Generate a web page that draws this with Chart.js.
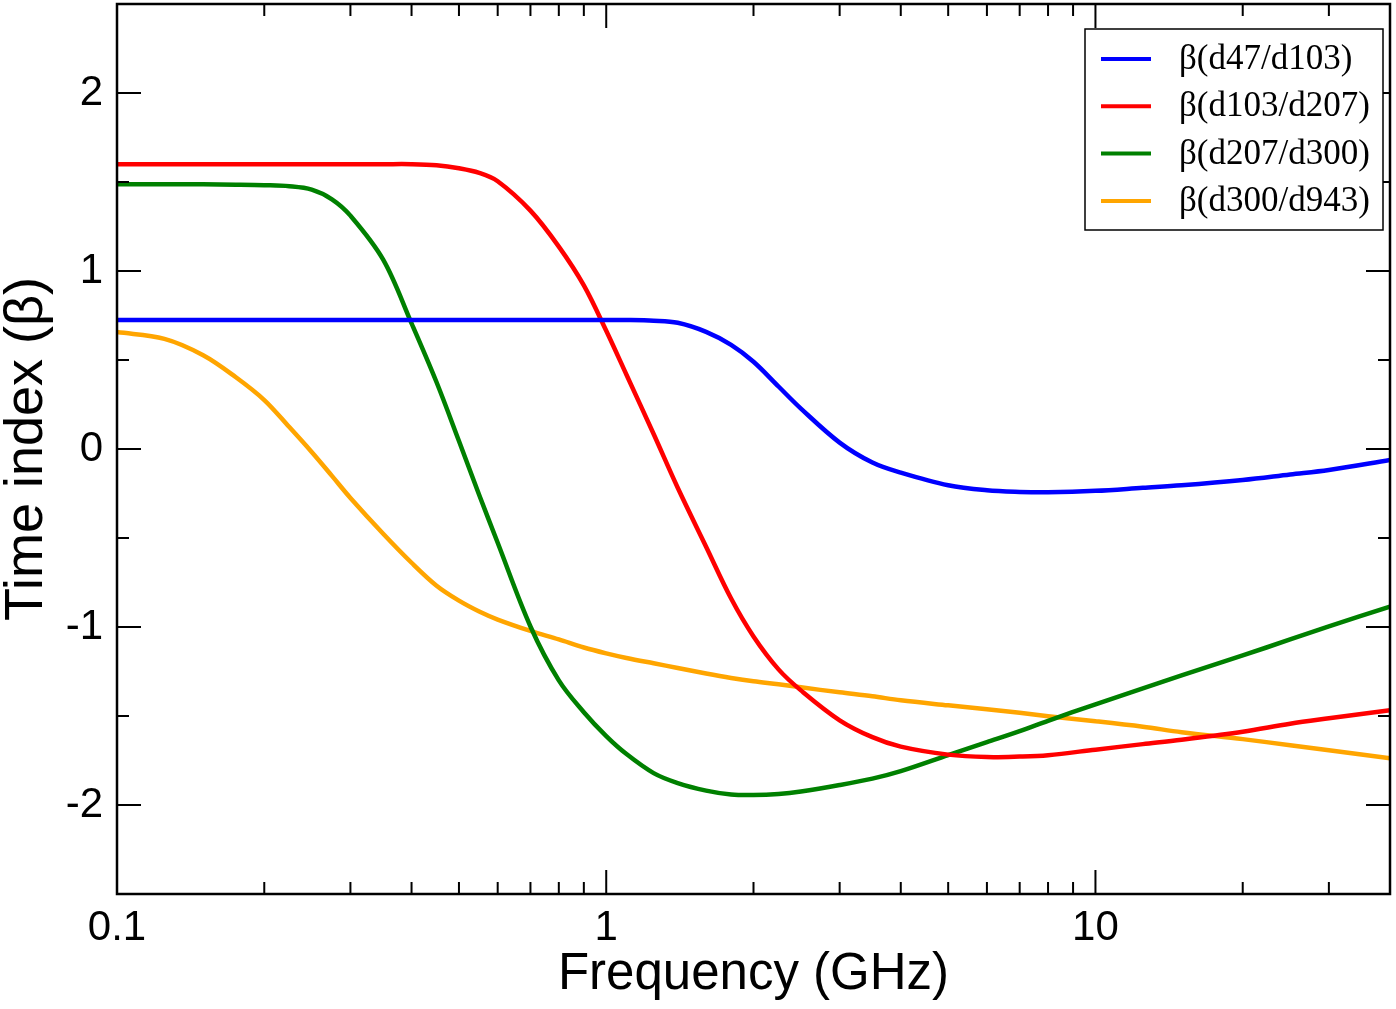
<!DOCTYPE html>
<html>
<head>
<meta charset="utf-8">
<script src="https://cdn.jsdelivr.net/npm/chart.js@4.4.1/dist/chart.umd.min.js"></script>
<style>
  body { margin: 0; background: #fff; overflow: hidden; }
  #wrap { width: 1396px; height: 1009px; }
</style>
</head>
<body>
<div id="wrap"><canvas id="myChart"></canvas></div>
<script>
// frequencies (GHz) the curves were read at
let freq = [0.1, 0.125, 0.15, 0.175, 0.2, 0.225, 0.25, 0.275, 0.3, 0.35, 0.4, 0.45, 0.5, 0.55, 0.6, 0.7, 0.8, 0.9,
            1, 1.1, 1.25, 1.4, 1.6, 1.8, 2, 2.25, 2.5, 3, 3.5, 4, 5, 6, 7, 8, 10, 12.5, 15, 20, 25, 30, 40]

let beta_47_103  = [0.725, 0.725, 0.725, 0.725, 0.725, 0.725, 0.725, 0.725, 0.725, 0.725, 0.725, 0.725, 0.725, 0.725, 0.725, 0.725, 0.725, 0.725,
                    0.725, 0.725, 0.721, 0.709, 0.658, 0.585, 0.49, 0.351, 0.227, 0.036, -0.076, -0.133, -0.204, -0.232, -0.241, -0.243, -0.235, -0.218, -0.204, -0.174, -0.143, -0.118, -0.062]
let beta_103_207 = [1.60, 1.60, 1.60, 1.60, 1.60, 1.60, 1.60, 1.60, 1.60, 1.60, 1.60, 1.594, 1.577, 1.551, 1.504, 1.339, 1.137, 0.919,
                    0.664, 0.417, 0.084, -0.218, -0.549, -0.84, -1.053, -1.238, -1.356, -1.524, -1.619, -1.672, -1.717, -1.731, -1.728, -1.72, -1.689, -1.658, -1.633, -1.588, -1.543, -1.513, -1.468]
let beta_207_300 = [1.487, 1.487, 1.487, 1.485, 1.482, 1.476, 1.457, 1.403, 1.311, 1.064, 0.706, 0.375, 0.045, -0.258, -0.527, -0.997, -1.30, -1.479,
                    -1.613, -1.714, -1.821, -1.877, -1.919, -1.941, -1.944, -1.938, -1.924, -1.888, -1.852, -1.81, -1.72, -1.647, -1.585, -1.527, -1.434, -1.345, -1.272, -1.16, -1.07, -0.997, -0.885]
let beta_300_943 = [0.657, 0.619, 0.527, 0.403, 0.275, 0.123, -0.017, -0.151, -0.275, -0.476, -0.639, -0.768, -0.852, -0.913, -0.958, -1.022, -1.07, -1.115,
                    -1.148, -1.174, -1.204, -1.23, -1.261, -1.286, -1.305, -1.322, -1.339, -1.367, -1.389, -1.412, -1.44, -1.462, -1.482, -1.501, -1.529, -1.56, -1.591, -1.63, -1.664, -1.692, -1.737]

let labels = ['β(d47/d103)', 'β(d103/d207)', 'β(d207/d300)', 'β(d300/d943)']
let colors = ['#0000ff', '#ff0000', '#008000', '#ffa500']

let xMajor = [0.1, 1, 10]
let xMinor = [0.2, 0.3, 0.4, 0.5, 0.6, 0.7, 0.8, 0.9, 2, 3, 4, 5, 6, 7, 8, 9, 20, 30]
let yMajor = [-2, -1, 0, 1, 2]
let yMinor = [-1.5, -0.5, 0.5, 1.5]

function pts(ys) {
    return freq.map((f, i) => ({x: f, y: ys[i]}))
}

let series = [beta_47_103, beta_103_207, beta_207_300, beta_300_943]
let datasets = series.map((s, i) => ({
    label: labels[i],
    data: pts(s),
    borderColor: colors[i],
    borderWidth: 4.5,
    pointRadius: 0,
    fill: false,
    tension: 0.35
}))

// frame + inward ticks on all four sides, and the boxed legend
const frame = {
    id: 'frame',
    afterDraw(chart) {
        const ctx = chart.ctx
        const a = chart.chartArea
        const xs = chart.scales.x, ys = chart.scales.y
        ctx.save()
        ctx.strokeStyle = '#000'
        ctx.lineWidth = 2
        const tick = (vals, len) => {
            vals.forEach(v => {
                let px = xs.getPixelForValue(v)
                ctx.beginPath()
                ctx.moveTo(px, a.bottom); ctx.lineTo(px, a.bottom - len)
                ctx.moveTo(px, a.top); ctx.lineTo(px, a.top + len)
                ctx.stroke()
            })
        }
        const ytick = (vals, len) => {
            vals.forEach(v => {
                let py = ys.getPixelForValue(v)
                ctx.beginPath()
                ctx.moveTo(a.left, py); ctx.lineTo(a.left + len, py)
                ctx.moveTo(a.right, py); ctx.lineTo(a.right - len, py)
                ctx.stroke()
            })
        }
        tick(xMajor, 24); tick(xMinor, 12)
        ytick(yMajor, 24); ytick(yMinor, 12)
        ctx.lineWidth = 2.5
        ctx.strokeRect(a.left, a.top, a.right - a.left, a.bottom - a.top)

        // legend
        let bx = 1085, by = 29, bw = 298, bh = 201
        ctx.fillStyle = '#fff'
        ctx.fillRect(bx, by, bw, bh)
        ctx.strokeStyle = '#000'
        ctx.lineWidth = 1.5
        ctx.strokeRect(bx, by, bw, bh)
        ctx.font = '35px "Liberation Serif", serif'
        ctx.textBaseline = 'middle'
        chart.data.datasets.forEach((ds, i) => {
            let ly = 59 + i * 47.3
            ctx.strokeStyle = ds.borderColor
            ctx.lineWidth = 4
            ctx.beginPath()
            ctx.moveTo(1101, ly); ctx.lineTo(1151, ly)
            ctx.stroke()
            ctx.fillStyle = '#000'
            ctx.fillText(ds.label, 1179, ly + 1)
        })
        ctx.restore()
    }
}

var chart = new Chart('myChart', {
    type: 'line',
    data: { datasets: datasets },
    options: {
        responsive: true,
        maintainAspectRatio: false,
        animation: false,
        layout: { padding: { left: 0, top: 4, right: 6, bottom: 0 } },
        plugins: { legend: { display: false }, tooltip: { enabled: false } },
        scales: {
            x: {
                type: 'logarithmic',
                min: 0.1,
                max: 40,
                grid: { display: false, drawTicks: false },
                border: { display: false },
                afterBuildTicks: (s) => { s.ticks = xMajor.map(v => ({value: v})) },
                afterFit: (s) => { s.height = 115; s.paddingLeft = 0; s.paddingRight = 0 },
                ticks: {
                    color: '#000',
                    padding: 9,
                    maxRotation: 0,
                    autoSkip: false,
                    font: { family: '"Liberation Sans", Arial, sans-serif', size: 42, lineHeight: 1.2 },
                    callback: (v) => String(v)
                },
                title: {
                    display: true,
                    text: 'Frequency (GHz)',
                    color: '#000',
                    padding: { top: 0, bottom: 9 },
                    font: { family: '"Liberation Sans", Arial, sans-serif', size: 51, lineHeight: 1 }
                }
            },
            y: {
                min: -2.5,
                max: 2.5,
                grid: { display: false, drawTicks: false },
                border: { display: false },
                afterBuildTicks: (s) => { s.ticks = yMajor.map(v => ({value: v})) },
                afterFit: (s) => { s.width = 117; s.paddingTop = 0; s.paddingBottom = 0 },
                ticks: {
                    color: '#000',
                    padding: 14,
                    font: { family: '"Liberation Sans", Arial, sans-serif', size: 42 },
                    callback: (v) => String(v)
                },
                title: {
                    display: true,
                    text: 'Time index (β)',
                    color: '#000',
                    padding: { top: 0, bottom: 0 },
                    font: { family: '"Liberation Sans", Arial, sans-serif', size: 54, lineHeight: 1 }
                }
            }
        }
    },
    plugins: [frame]
})
</script>
</body>
</html>
